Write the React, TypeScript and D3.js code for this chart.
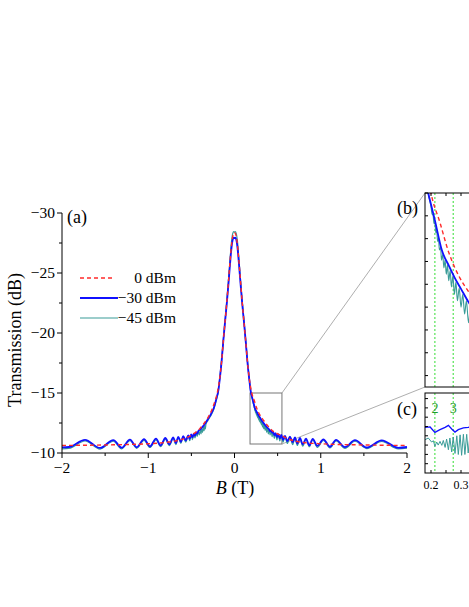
import React from "react";
import * as d3 from "d3";

// B (T) vs transmission (dB)
const redPts: [number, number][] = [
  [-2.0, -10.63], [-1.5, -10.67], [-1.0, -10.77], [-0.8, -10.88], [-0.7, -10.98], [-0.6, -11.15],
  [-0.5, -11.48], [-0.45, -11.72], [-0.4, -12.05], [-0.35, -12.5], [-0.3, -13.05], [-0.26, -13.65],
  [-0.23, -14.25], [-0.2, -15.0], [-0.17, -16.3], [-0.15, -17.6], [-0.13, -19.3], [-0.11, -20.9],
  [-0.09, -22.5], [-0.07, -24.3], [-0.05, -26.1], [-0.03, -27.6], [-0.015, -28.2], [0, -28.35],
  [0.015, -28.2], [0.03, -27.6], [0.05, -26.1], [0.07, -24.3], [0.09, -22.5], [0.11, -20.9],
  [0.13, -19.3], [0.15, -17.6], [0.17, -16.3], [0.2, -15.0], [0.23, -14.35], [0.258, -13.72],
  [0.297, -13.13], [0.324, -12.85], [0.35, -12.6], [0.4, -12.15], [0.45, -11.8], [0.5, -11.6],
  [0.55, -11.45], [0.6, -11.25], [0.7, -11.0], [0.8, -10.88], [1.0, -10.77], [1.5, -10.67], [2.0, -10.63],
];

const blueNeg: [number, number][] = [
  [-2.0, -10.47], [-1.92, -10.5], [-1.733, -11.1], [-1.559, -10.42], [-1.405, -11.08], [-1.308, -10.44],
  [-1.212, -11.12], [-1.134, -10.48], [-1.049, -11.16], [-0.98, -10.55], [-0.91, -11.2], [-0.856, -10.63],
  [-0.802, -11.25], [-0.756, -10.72], [-0.71, -11.3], [-0.68, -10.82], [-0.652, -11.35], [-0.622, -10.93],
  [-0.594, -11.4], [-0.565, -11.05], [-0.536, -11.47], [-0.519, -11.17], [-0.503, -11.55], [-0.487, -11.3],
  [-0.472, -11.62], [-0.458, -11.45], [-0.444, -11.72], [-0.432, -11.62], [-0.42, -11.82], [-0.4, -11.95],
  [-0.38, -12.1], [-0.35, -12.35], [-0.32, -12.68], [-0.3, -12.92], [-0.28, -13.15], [-0.26, -13.42],
  [-0.24, -13.75], [-0.22, -14.25], [-0.2, -14.8], [-0.19, -15.1], [-0.17, -16.2], [-0.15, -17.6],
  [-0.13, -19.3], [-0.11, -20.9], [-0.09, -22.4], [-0.07, -24.1], [-0.05, -25.9], [-0.035, -27.1],
  [-0.02, -27.8], [-0.008, -27.95],
];

const bluePos: [number, number][] = [
  [0, -27.9], [0.008, -27.95], [0.02, -27.8], [0.035, -27.1], [0.05, -25.9], [0.07, -24.1], [0.09, -22.4],
  [0.11, -20.9], [0.13, -19.3], [0.15, -17.6], [0.17, -16.2], [0.191, -15.0], [0.2, -14.75], [0.213, -14.4],
  [0.236, -13.75], [0.26, -13.4], [0.28, -13.13], [0.3, -12.9], [0.324, -12.62], [0.35, -12.37],
  [0.38, -12.12], [0.4, -11.98], [0.413, -11.82], [0.424, -11.88], [0.436, -11.7], [0.448, -11.75],
  [0.462, -11.5], [0.476, -11.63], [0.492, -11.33], [0.508, -11.56], [0.525, -11.22], [0.543, -11.5],
  [0.563, -11.09], [0.585, -11.42], [0.612, -10.98], [0.643, -11.36], [0.675, -10.88], [0.701, -11.31],
  [0.728, -10.79], [0.759, -11.25], [0.791, -10.72], [0.829, -11.2], [0.867, -10.64], [0.907, -11.18],
  [0.96, -10.59], [1.03, -11.14], [1.107, -10.52], [1.177, -11.1], [1.281, -10.49], [1.397, -11.07],
  [1.533, -10.46], [1.707, -11.05], [1.899, -10.43], [2.0, -10.5],
];

const tealNeg: [number, number][] = [
  [-2.0, -10.35], [-1.92, -10.38], [-1.733, -11.0], [-1.559, -10.33], [-1.405, -10.98], [-1.308, -10.35],
  [-1.212, -11.02], [-1.134, -10.39], [-1.049, -11.06], [-0.98, -10.46], [-0.91, -11.1], [-0.856, -10.53],
  [-0.802, -11.15], [-0.756, -10.62], [-0.71, -11.22], [-0.68, -10.7], [-0.652, -11.28], [-0.622, -10.8],
  [-0.594, -11.34], [-0.565, -10.9], [-0.536, -11.42], [-0.519, -11.02], [-0.503, -11.5], [-0.487, -11.12],
  [-0.472, -11.58], [-0.458, -11.25], [-0.444, -11.68], [-0.432, -11.38], [-0.42, -11.8], [-0.408, -11.5],
  [-0.398, -11.92], [-0.388, -11.6], [-0.379, -12.02], [-0.37, -11.72], [-0.361, -12.15], [-0.353, -11.86],
  [-0.345, -12.28], [-0.338, -12.0], [-0.331, -12.4], [-0.31, -12.7], [-0.28, -13.05], [-0.26, -13.32],
  [-0.24, -13.65], [-0.22, -14.15], [-0.2, -14.7], [-0.19, -15.0], [-0.17, -16.3], [-0.15, -17.7],
  [-0.13, -19.4], [-0.11, -21.0], [-0.09, -22.6], [-0.07, -24.4], [-0.05, -26.3], [-0.035, -27.6],
  [-0.02, -28.3], [-0.008, -28.45],
];

const tealPos: [number, number][] = [
  [0, -28.4], [0.008, -28.45], [0.02, -28.3], [0.035, -27.6], [0.05, -26.3], [0.07, -24.4], [0.09, -22.6],
  [0.11, -21.0], [0.13, -19.4], [0.15, -17.7], [0.17, -16.3], [0.19, -15.0], [0.2, -14.7], [0.203, -14.55],
  [0.207, -14.51], [0.21, -14.33], [0.213, -14.35], [0.216, -14.13], [0.219, -14.18], [0.222, -13.94],
  [0.225, -14.01], [0.228, -13.75], [0.232, -13.81], [0.235, -13.53], [0.239, -13.65], [0.243, -13.36],
  [0.247, -13.53], [0.251, -13.22], [0.255, -13.42], [0.259, -13.08], [0.264, -13.3], [0.268, -12.94],
  [0.273, -13.18], [0.278, -12.78], [0.283, -13.05], [0.288, -12.64], [0.294, -12.92], [0.3, -12.5],
  [0.306, -12.78], [0.312, -12.35], [0.318, -12.64], [0.325, -12.16], [0.332, -12.54], [0.339, -12.02],
  [0.347, -12.4], [0.355, -11.88], [0.364, -12.25], [0.373, -11.73], [0.382, -12.11], [0.392, -11.59],
  [0.402, -11.97], [0.413, -11.5], [0.424, -11.93], [0.436, -11.36], [0.448, -11.79], [0.462, -11.21],
  [0.476, -11.66], [0.492, -11.1], [0.508, -11.59], [0.525, -11.0], [0.543, -11.5], [0.563, -10.9],
  [0.585, -11.4], [0.612, -10.79], [0.643, -11.34], [0.675, -10.7], [0.701, -11.27], [0.728, -10.63],
  [0.759, -11.2], [0.791, -10.57], [0.829, -11.14], [0.867, -10.52], [0.907, -11.1], [0.96, -10.47],
  [1.03, -11.04], [1.107, -10.42], [1.177, -11.0], [1.281, -10.39], [1.397, -10.98], [1.533, -10.37],
  [1.707, -10.96], [1.899, -10.35], [2.0, -10.4],
];

// panel (c): oscillating part, arbitrary units
const cBlue: [number, number][] = [
  [0.18, 4.9], [0.197, 4.95], [0.213, 4.37], [0.23, 4.66], [0.247, 4.9], [0.258, 5.12], [0.269, 4.73],
  [0.28, 4.4], [0.291, 4.66], [0.308, 4.84], [0.324, 4.9], [0.34, 5.0], [0.36, 4.85],
];
const cTeal: [number, number][] = [
  [0.18, 3.58], [0.191, 3.76], [0.202, 3.33], [0.208, 3.47], [0.213, 2.86], [0.219, 3.33], [0.224, 3.0],
  [0.23, 3.4], [0.236, 2.97], [0.241, 3.5], [0.247, 2.75], [0.252, 3.65], [0.258, 2.5], [0.263, 3.76],
  [0.269, 2.26], [0.274, 3.87], [0.28, 2.1], [0.286, 4.0], [0.291, 1.99], [0.297, 4.1], [0.302, 1.9],
  [0.308, 4.16], [0.313, 1.99], [0.319, 4.16], [0.324, 2.15], [0.33, 4.1], [0.336, 2.2],
];

const levelB = [0.213, 0.274];
const levelNames = ["2", "3"];
const xTicks = [-2, -1, 0, 1, 2];
const yTicks = [-30, -25, -20, -15, -10];
const legendNames = ["0 dBm", "\u221230 dBm", "\u221245 dBm"];
const zoomBox = { b0: 0.18, b1: 0.55, t0: -15, t1: -10.75 };

const RED = "#ff2a2a";
const BLUE = "#1010ff";
const TEAL = "#3a9c98";
const GREEN = "#33dd33";
const FONT = "'Liberation Serif', 'Times New Roman', serif";

const fmt = (v: number) => (v < 0 ? "\u2212" + Math.abs(v) : String(v));

export default function App() {
  const x = d3.scaleLinear().domain([-2, 2]).range([62, 407]);
  const y = d3.scaleLinear().domain([-10, -30]).range([453, 213]);

  const bx = d3.scaleLinear().domain([0.18, 0.55]).range([425, 536]);
  const by = d3.scaleLinear().domain([-10.75, -15]).range([387, 193]);
  const cy = d3.scaleLinear().domain([0, 8.6]).range([473, 393]);

  const line = d3
    .line<[number, number]>()
    .x((d) => x(d[0]))
    .y((d) => y(d[1]))
    .curve(d3.curveMonotoneX);
  const lineB = d3
    .line<[number, number]>()
    .x((d) => bx(d[0]))
    .y((d) => by(d[1]))
    .curve(d3.curveMonotoneX);
  const lineC = d3
    .line<[number, number]>()
    .x((d) => bx(d[0]))
    .y((d) => cy(d[1]))
    .curve(d3.curveLinear);

  const blue = [...blueNeg, ...bluePos];
  const teal = [...tealNeg, ...tealPos];

  const minorX = d3.range(-2, 2.01, 0.5).filter((v) => !xTicks.includes(v));
  const minorY = d3.range(-30, -9.9, 2.5).filter((v) => !yTicks.includes(v));
  const bTicksY = d3.range(-15, -10.9, 0.5);
  const cTicksY = d3.range(1, 8.1, 1);
  const insetTicksX = d3.range(0.2, 0.56, 0.05);

  const zx0 = x(zoomBox.b0), zx1 = x(zoomBox.b1);
  const zy0 = y(zoomBox.t0), zy1 = y(zoomBox.t1);

  return (
    <svg
      width={469}
      height={607}
      style={{ position: "absolute", left: 0, top: 0, background: "#fff" }}
      fontFamily={FONT}
    >
      <defs>
        <clipPath id="clipB">
          <rect x={bx(0.18)} y={193} width={bx(0.55) - bx(0.18)} height={194} />
        </clipPath>
        <clipPath id="clipC">
          <rect x={bx(0.18)} y={393} width={bx(0.55) - bx(0.18)} height={80} />
        </clipPath>
      </defs>

      {/* zoom box + connector lines */}
      <rect x={zx0} y={zy0} width={zx1 - zx0} height={zy1 - zy0} fill="none" stroke="#777" strokeWidth={1} />
      <line x1={zx1} y1={zy0} x2={bx(0.18)} y2={193} stroke="#999" strokeWidth={0.8} />
      <line x1={zx1} y1={zy1} x2={bx(0.18)} y2={387} stroke="#999" strokeWidth={0.8} />

      {/* main curves */}
      <path d={line(teal) || ""} fill="none" stroke={TEAL} strokeWidth={1.2} />
      <path d={line(blue) || ""} fill="none" stroke={BLUE} strokeWidth={1.8} />
      <path d={line(redPts) || ""} fill="none" stroke={RED} strokeWidth={1.4} strokeDasharray="4,3" />

      {/* main axes */}
      <line x1={62} y1={213} x2={62} y2={453} stroke="#000" />
      <line x1={62} y1={453} x2={407} y2={453} stroke="#000" />
      {yTicks.map((t) => (
        <g key={"yt" + t}>
          <line x1={57} x2={62} y1={y(t)} y2={y(t)} stroke="#000" />
          <text x={55} y={y(t) + 5} fontSize={15.5} textAnchor="end">
            {fmt(t)}
          </text>
        </g>
      ))}
      {minorY.map((t) => (
        <line key={"ym" + t} x1={59} x2={62} y1={y(t)} y2={y(t)} stroke="#000" />
      ))}
      {xTicks.map((t) => (
        <g key={"xt" + t}>
          <line x1={x(t)} x2={x(t)} y1={453} y2={458} stroke="#000" />
          <text x={x(t)} y={473} fontSize={15.5} textAnchor="middle">
            {fmt(t)}
          </text>
        </g>
      ))}
      {minorX.map((t) => (
        <line key={"xm" + t} x1={x(t)} x2={x(t)} y1={453} y2={456} stroke="#000" />
      ))}
      <text x={235} y={494} fontSize={18} textAnchor="middle">
        <tspan fontStyle="italic">B</tspan> (T)
      </text>
      <text transform="translate(21,340) rotate(-90)" fontSize={18} textAnchor="middle">
        Transmission (dB)
      </text>
      <text x={67} y={223} fontSize={18}>
        (a)
      </text>

      {/* legend */}
      {legendNames.map((name, i) => {
        const ly = 278 + i * 20;
        const col = [RED, BLUE, TEAL][i];
        return (
          <g key={name}>
            <line
              x1={80}
              x2={i === 0 ? 113 : 118}
              y1={ly}
              y2={ly}
              stroke={col}
              strokeWidth={i === 1 ? 1.8 : i === 0 ? 1.4 : 1.2}
              strokeDasharray={i === 0 ? "4,3" : undefined}
            />
            <text x={176} y={ly + 5} fontSize={15.5} textAnchor="end">
              {name}
            </text>
          </g>
        );
      })}

      {/* inset (b) */}
      <g clipPath="url(#clipB)">
        {levelB.map((b) => (
          <line key={"gb" + b} x1={bx(b)} x2={bx(b)} y1={193} y2={387} stroke={GREEN} strokeWidth={1} strokeDasharray="2,2" />
        ))}
        <path d={lineB(tealPos) || ""} fill="none" stroke={TEAL} strokeWidth={1.1} />
        <path d={lineB(bluePos) || ""} fill="none" stroke={BLUE} strokeWidth={1.8} />
        <path d={lineB(redPts) || ""} fill="none" stroke={RED} strokeWidth={1.4} strokeDasharray="4,3" />
      </g>
      <rect x={bx(0.18)} y={193} width={bx(0.55) - bx(0.18)} height={194} fill="none" stroke="#000" />
      {bTicksY.map((t) => (
        <line key={"bt" + t} x1={bx(0.18)} x2={bx(0.18) + 3} y1={by(t)} y2={by(t)} stroke="#000" />
      ))}
      {insetTicksX.map((t) => (
        <line key={"btx" + t} x1={bx(t)} x2={bx(t)} y1={193} y2={196} stroke="#000" />
      ))}
      <text x={397} y={214} fontSize={18}>
        (b)
      </text>

      {/* inset (c) */}
      <g clipPath="url(#clipC)">
        {levelB.map((b) => (
          <line key={"gc" + b} x1={bx(b)} x2={bx(b)} y1={393} y2={473} stroke={GREEN} strokeWidth={1} strokeDasharray="2,2" />
        ))}
        <path d={lineC(cTeal) || ""} fill="none" stroke={TEAL} strokeWidth={1} />
        <path d={lineC(cBlue) || ""} fill="none" stroke={BLUE} strokeWidth={1.3} />
      </g>
      <rect x={bx(0.18)} y={393} width={bx(0.55) - bx(0.18)} height={80} fill="none" stroke="#000" />
      {cTicksY.map((t) => (
        <line key={"ct" + t} x1={bx(0.18)} x2={bx(0.18) + 3} y1={cy(t)} y2={cy(t)} stroke="#000" />
      ))}
      {insetTicksX.map((t) => (
        <line key={"ctx" + t} x1={bx(t)} x2={bx(t)} y1={473} y2={470} stroke="#000" />
      ))}
      {[0.2, 0.3].map((t) => (
        <text key={"cl" + t} x={bx(t)} y={489} fontSize={12} textAnchor="middle">
          {t.toFixed(1)}
        </text>
      ))}
      {levelB.map((b, i) => (
        <text key={"ln" + b} x={bx(b)} y={413} fontSize={14} fill="#1f9a2a" textAnchor="middle">
          {levelNames[i]}
        </text>
      ))}
      <text x={397} y={415} fontSize={18}>
        (c)
      </text>
    </svg>
  );
}
